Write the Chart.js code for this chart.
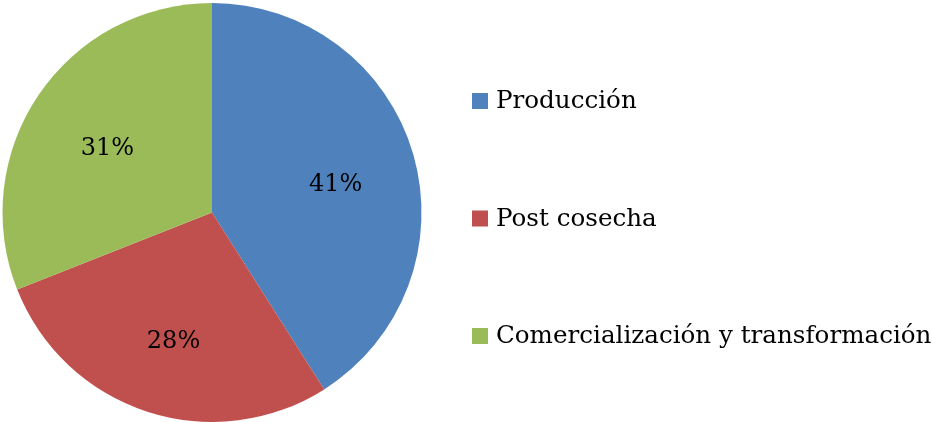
<!DOCTYPE html>
<html>
<head>
<meta charset="utf-8">
<script src="https://cdn.jsdelivr.net/npm/chart.js@4/dist/chart.umd.min.js"></script>
<style>
  html, body { margin: 0; padding: 0; background: #fff; }
  #wrap { width: 932px; height: 422px; }
</style>
</head>
<body>
<div id="wrap"><canvas id="pieChart" width="932" height="422"></canvas></div>
<script>
// categories and their shares (%)
var categories = ['Producción', 'Post cosecha', 'Comercialización y transformación'];
var shares = [41, 28, 31];
var sliceColors = ['#4F81BD', '#C0504D', '#9BBB59'];

var serif = '"DejaVu Serif", "Liberation Serif", serif';

// percentage labels inside the slices
var sliceLabels = {
    id: 'sliceLabels',
    afterDatasetsDraw: function (chart) {
        var ctx = chart.ctx;
        var meta = chart.getDatasetMeta(0);
        var total = shares.reduce(function (a, b) { return a + b; }, 0);
        ctx.save();
        ctx.font = '24px ' + serif;
        ctx.fillStyle = '#000';
        ctx.textAlign = 'center';
        ctx.textBaseline = 'middle';
        meta.data.forEach(function (arc, i) {
            var p = arc.getProps(['x', 'y', 'startAngle', 'endAngle', 'outerRadius'], true);
            var mid = (p.startAngle + p.endAngle) / 2;
            var r = p.outerRadius * 0.61;
            var pct = Math.round(shares[i] / total * 100) + '%';
            ctx.fillText(pct, p.x + Math.cos(mid) * r + 1, p.y + Math.sin(mid) * r + 8);
        });
        ctx.restore();
    }
};

// legend on the right, square markers
var sideLegend = {
    id: 'sideLegend',
    afterDraw: function (chart) {
        var ctx = chart.ctx;
        var boxX = 472, box = 16, textX = 496;
        var firstY = 101, step = 117.5;
        ctx.save();
        ctx.font = '24.6px ' + serif;
        ctx.textBaseline = 'middle';
        chart.data.labels.forEach(function (lab, i) {
            var cy = firstY + i * step;
            ctx.fillStyle = chart.data.datasets[0].backgroundColor[i];
            ctx.fillRect(boxX, cy - box / 2, box, box);
            ctx.fillStyle = '#000';
            ctx.fillText(lab, textX, cy + 1);
        });
        ctx.restore();
    }
};

var ctx = document.getElementById('pieChart').getContext('2d');
var pieChart = new Chart(ctx, {
    type: 'pie',
    data: {
        labels: categories,
        datasets: [{
            data: shares,
            backgroundColor: sliceColors,
            borderWidth: 0
        }]
    },
    options: {
        responsive: false,
        animation: false,
        layout: { padding: { left: 2, right: 510, top: 3, bottom: 0 } },
        plugins: {
            legend: { display: false },
            tooltip: { enabled: false }
        }
    },
    plugins: [sliceLabels, sideLegend]
});
</script>
</body>
</html>
